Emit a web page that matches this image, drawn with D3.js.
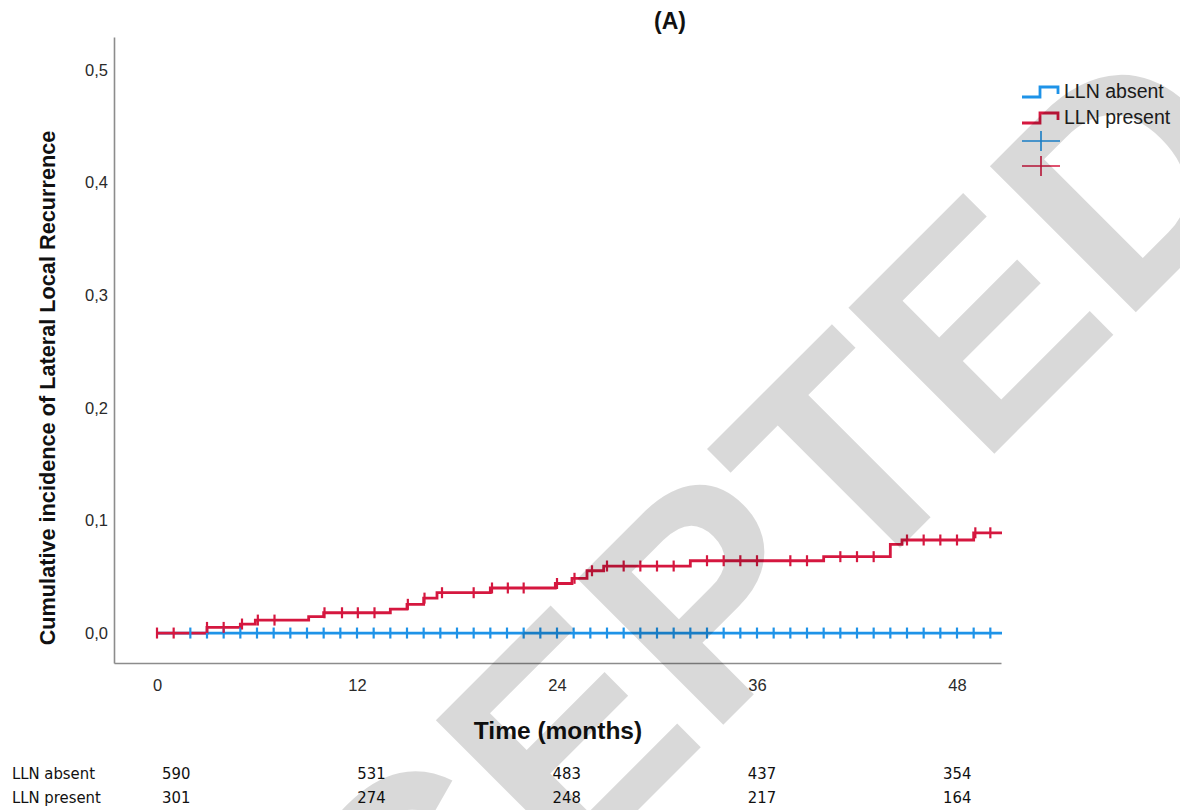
<!DOCTYPE html>
<html>
<head>
<meta charset="utf-8">
<script src="https://cdn.jsdelivr.net/npm/d3@7"></script>
<style>
  body { margin: 0; background: #fff; }
  svg { display: block; font-family: "Liberation Sans", Arial, sans-serif; }
</style>
</head>
<body>
<svg width="1180" height="810"></svg>
<script>
// step curves (time in months, cumulative incidence)
let presentTimes = [0, 3.0, 5.0, 5.9, 9.1, 10.0, 14.0, 15.0, 16.0, 16.8, 20.0, 23.9, 24.9, 25.8, 26.8, 32.0, 40.0, 44.0, 44.7, 49.0]
let presentValues = [0, 0.005, 0.008, 0.0115, 0.0145, 0.018, 0.0213, 0.0255, 0.031, 0.0358, 0.040, 0.044, 0.0486, 0.0553, 0.0595, 0.0642, 0.0678, 0.0788, 0.0826, 0.089]
let presentCensored = [0, 1, 3, 4, 5.1, 6.05, 7.05, 10.05, 11.1, 12.05, 13.05, 15.05, 16.05, 17.1, 19, 20.1, 21.05, 22, 24, 25.05, 26.1, 27, 28, 29, 30, 31, 33, 34, 35, 36, 38, 39, 41, 42, 43, 45, 46, 47, 48, 49.1, 50]

let absentTimes = [0]
let absentValues = [0]
let absentCensored = [2, 3, 4, 5, 6, 7, 8, 9, 10, 11, 12, 13, 14, 15, 16, 17, 18, 19, 20, 21, 22, 23, 24, 25, 26, 27, 28, 29, 30, 31, 32, 33, 34, 35, 36, 37, 38, 39, 40, 41, 42, 43, 44, 45, 46, 47, 48, 49, 50]

let endTime = 50.7

let xTicks = [0, 12, 24, 36, 48]
let yTicks = [0, 0.1, 0.2, 0.3, 0.4, 0.5]

let groups = ["LLN absent", "LLN present"]
let atRiskAbsent = [590, 531, 483, 437, 354]
let atRiskPresent = [301, 274, 248, 217, 164]

let blue = "#1e93e8"
let red = "#d5173f"

let svg = d3.select("svg")

let xScale = d3.scaleLinear().domain([-2.58, 50.64]).range([114, 1001])
let yScale = d3.scaleLinear().domain([-0.0266, 0.5292]).range([663, 37])

let locale = d3.formatLocale({decimal: ",", thousands: ".", grouping: [3], currency: ["", ""]})
let yFormat = locale.format(".1f")

// axes
let xAxis = d3.axisBottom(xScale).tickValues(xTicks).tickSize(0).tickPadding(16).tickFormat(d3.format("d"))
let yAxis = d3.axisLeft(yScale).tickValues(yTicks).tickSize(0).tickPadding(6).tickFormat(yFormat)

let gx = svg.append("g").attr("transform", "translate(0,663)").call(xAxis)
let gy = svg.append("g").attr("transform", "translate(114,0)").call(yAxis)

for (let g of [gx, gy]) {
    g.select(".domain").attr("stroke", "#8c8c8c").attr("stroke-width", 1.6)
    g.selectAll("text").attr("font-size", 16.5).attr("fill", "#2a2a2a")
        .attr("font-family", "'Liberation Sans', Arial, sans-serif")
}

// step path helper
let stepLine = d3.line()
    .x(d => xScale(d[0]))
    .y(d => yScale(d[1]))
    .curve(d3.curveStepAfter)

let toPoints = (times, values) => {
    let pts = times.map((t, i) => [t, values[i]])
    pts.push([endTime, values[values.length - 1]])
    return pts
}

let valueAt = (times, values, t) => {
    let v = values[0]
    times.forEach((tt, i) => { if (tt <= t) v = values[i] })
    return v
}

let plot = svg.append("g")

plot.append("path")
    .datum(toPoints(absentTimes, absentValues))
    .attr("d", stepLine)
    .attr("fill", "none")
    .attr("stroke", blue)
    .attr("stroke-width", 2.8)

plot.append("path")
    .datum(toPoints(presentTimes, presentValues))
    .attr("d", stepLine)
    .attr("fill", "none")
    .attr("stroke", red)
    .attr("stroke-width", 2.8)

let drawCensor = (times, values, censored, color) => {
    plot.selectAll(null)
        .data(censored)
        .enter()
        .append("line")
        .attr("x1", d => xScale(d))
        .attr("x2", d => xScale(d))
        .attr("y1", d => yScale(valueAt(times, values, d)) - 5.5)
        .attr("y2", d => yScale(valueAt(times, values, d)) + 5.5)
        .attr("stroke", color)
        .attr("stroke-width", 2.2)
}
drawCensor(absentTimes, absentValues, absentCensored, blue)
drawCensor(presentTimes, presentValues, presentCensored, red)

// titles
svg.append("text")
    .attr("x", 670).attr("y", 29)
    .attr("text-anchor", "middle")
    .attr("font-size", 23).attr("font-weight", "bold")
    .attr("fill", "#111")
    .text("(A)")

svg.append("text")
    .attr("x", 558).attr("y", 739)
    .attr("text-anchor", "middle")
    .attr("font-size", 24.5).attr("font-weight", "bold")
    .attr("fill", "#111")
    .text("Time (months)")

svg.append("text")
    .attr("transform", "translate(55,388) rotate(-90)")
    .attr("text-anchor", "middle")
    .attr("font-size", 21.7).attr("font-weight", "bold")
    .attr("fill", "#111")
    .text("Cumulative incidence of Lateral Local Recurrence")

// legend
let legend = svg.append("g")
let legendColors = [blue, red]
groups.forEach((name, i) => {
    let y = 97 + i * 26
    legend.append("path")
        .attr("d", `M1022,${y} H1040 V${y - 10} H1058 V${y - 3}`)
        .attr("fill", "none")
        .attr("stroke", legendColors[i])
        .attr("stroke-width", 2.8)
    legend.append("text")
        .attr("x", 1064).attr("y", y + 1)
        .attr("font-size", 19.5)
        .attr("fill", "#222")
        .text(name)
})
legendColors.forEach((c, i) => {
    let y = 141 + i * 25
    legend.append("line").attr("x1", 1022).attr("x2", 1060).attr("y1", y).attr("y2", y)
        .attr("stroke", c).attr("stroke-width", 1.6)
    legend.append("line").attr("x1", 1041).attr("x2", 1041).attr("y1", y - 10).attr("y2", y + 10)
        .attr("stroke", c).attr("stroke-width", 1.6)
})

// numbers at risk table
let tableX = d3.scaleLinear().domain([0, 48]).range([162, 943])
let tableFont = "'Liberation Sans Narrow', 'DejaVu Sans Condensed', Arial, sans-serif"
let rows = [atRiskAbsent, atRiskPresent]
rows.forEach((vals, r) => {
    let y = 779 + r * 24
    svg.append("text")
        .attr("x", 12).attr("y", y)
        .attr("font-size", 16.5).attr("font-family", tableFont)
        .attr("fill", "#111")
        .text(groups[r])
    svg.selectAll(null)
        .data(vals)
        .enter()
        .append("text")
        .attr("x", (d, i) => tableX(xTicks[i]))
        .attr("y", y)
        .attr("font-size", 16.5).attr("font-family", tableFont)
        .attr("fill", "#111")
        .text(d => d)
})

// watermark
svg.append("text")
    .attr("transform", "translate(108,1340) rotate(-45)")
    .attr("font-size", 300).attr("font-weight", "bold")
    .attr("fill", "#000").attr("fill-opacity", 0.15)
    .text("ACCEPTED")
</script>
</body>
</html>
